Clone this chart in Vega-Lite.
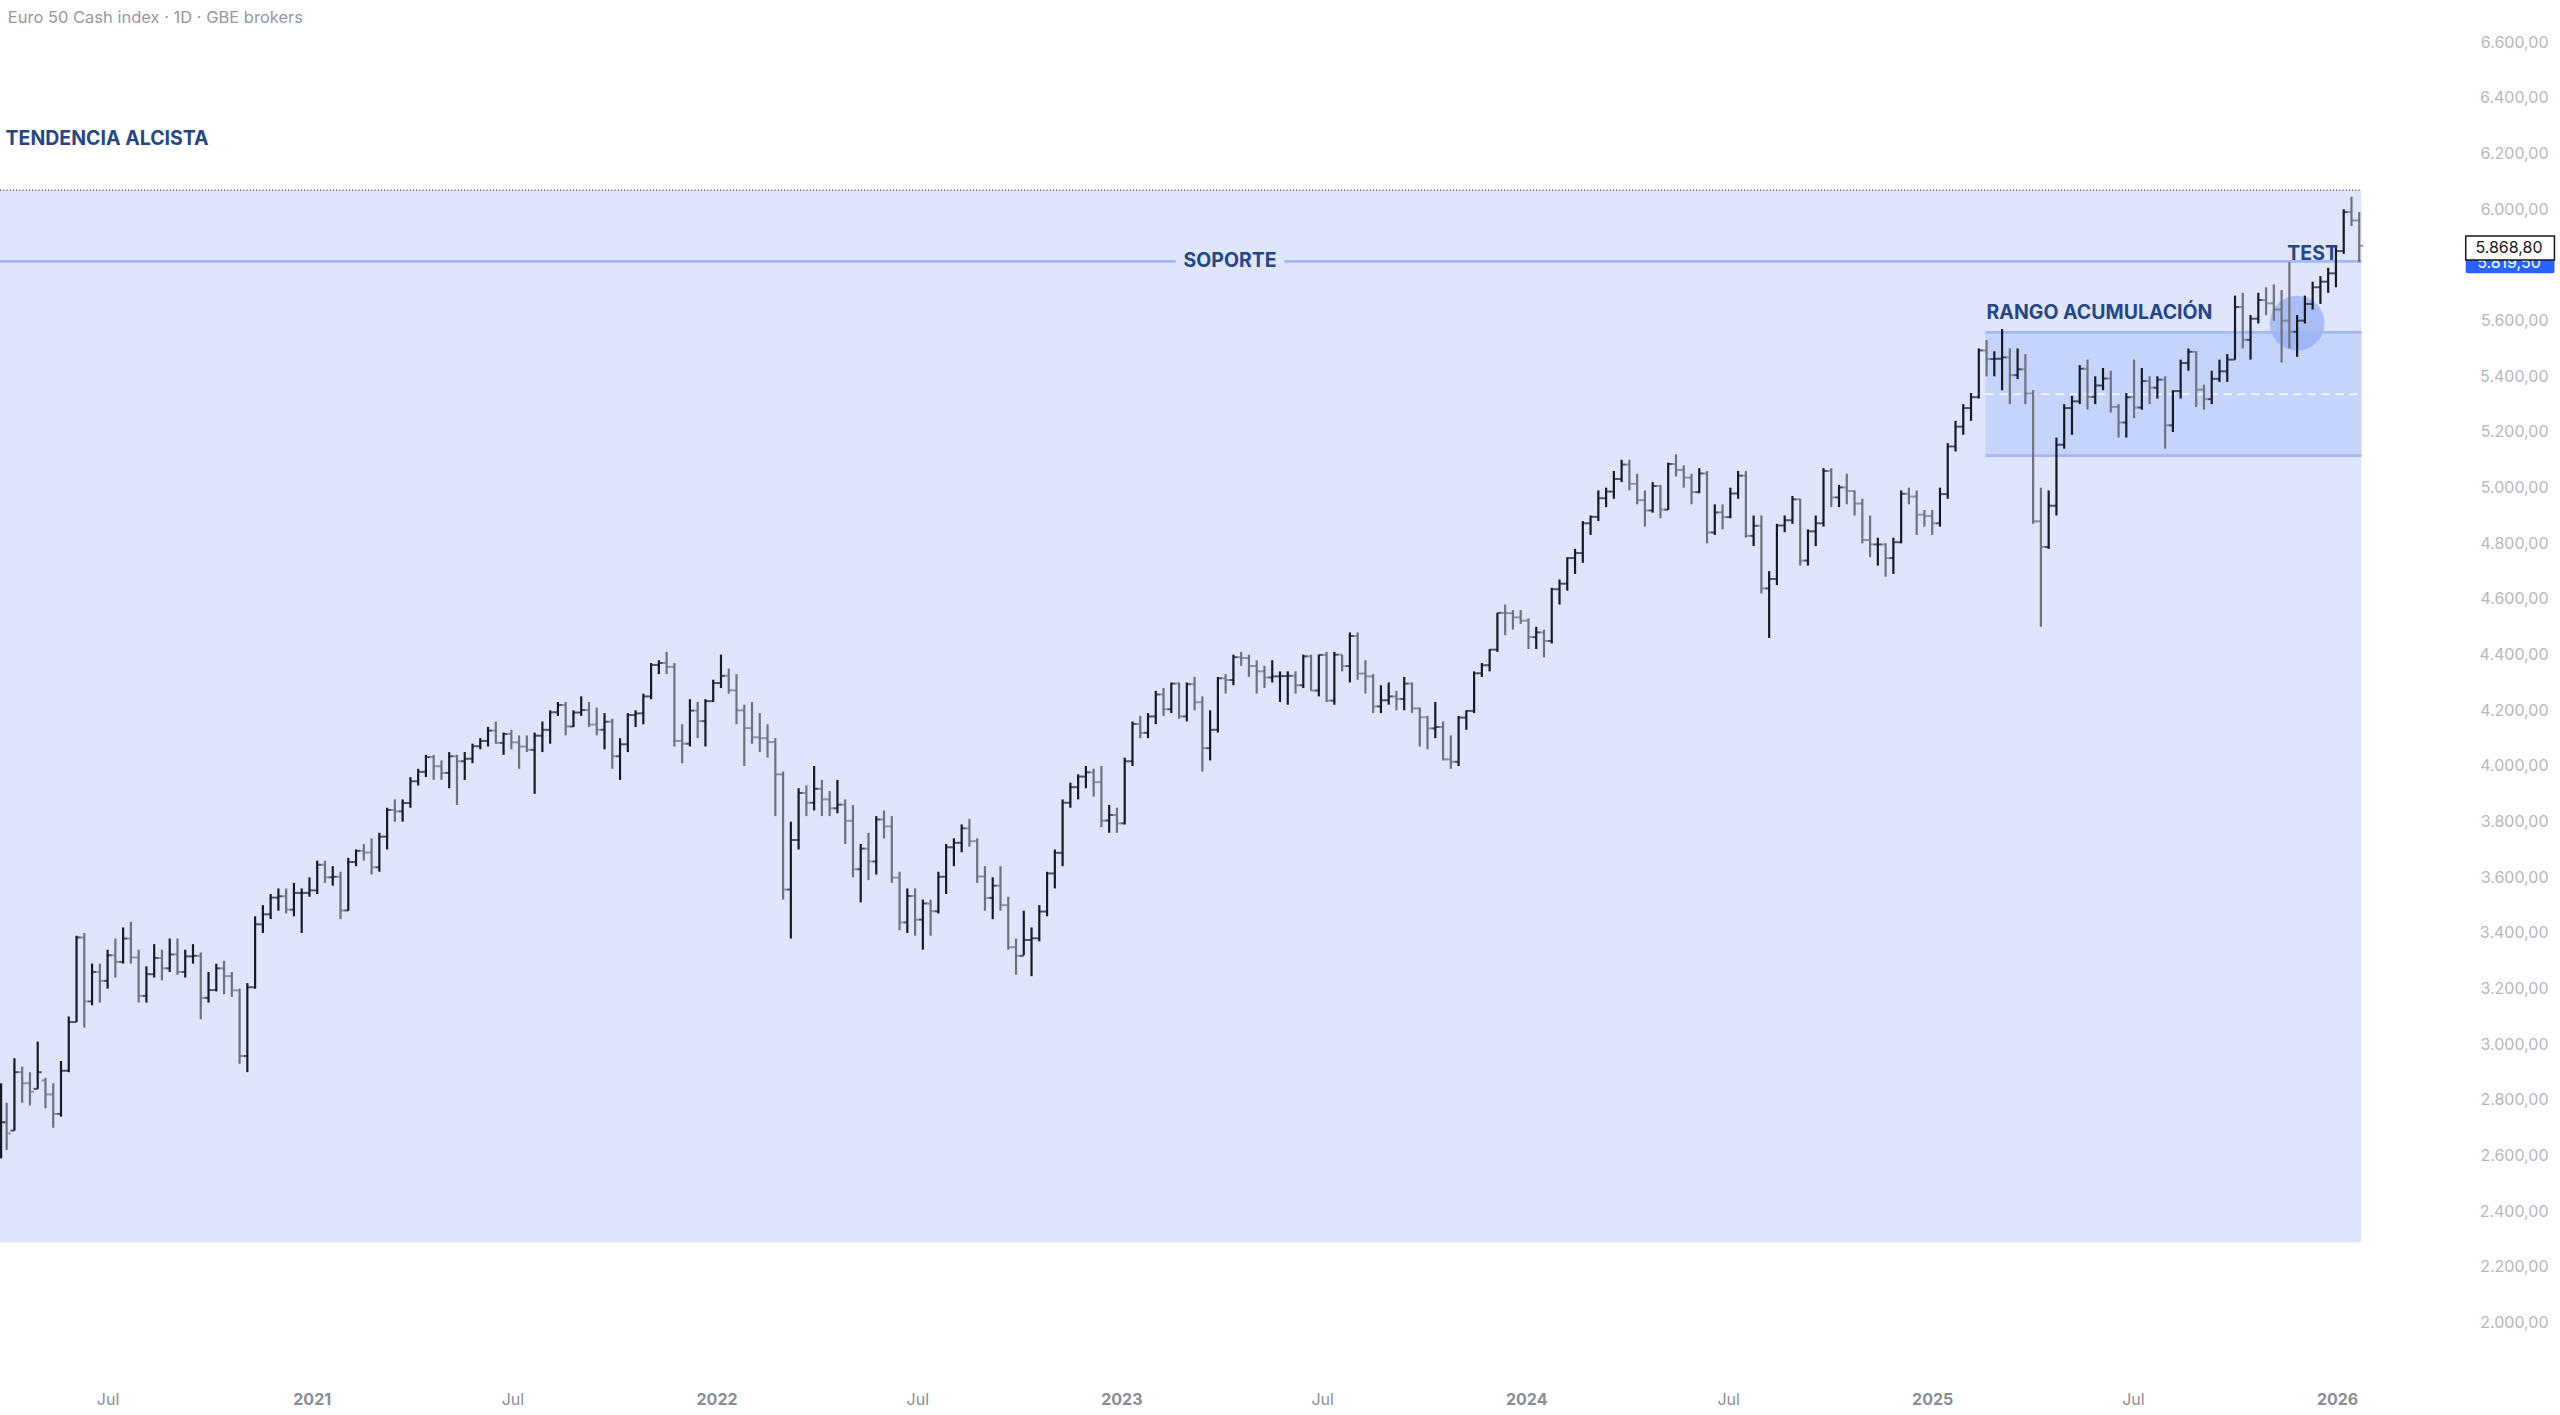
{
  "$schema": "https://vega.github.io/schema/vega-lite/v6.json",
  "width": 2560,
  "height": 1380,
  "autosize": "none",
  "padding": {"left": 0, "top": 0, "right": 0, "bottom": 35},
  "background": "#ffffff",
  "config": {
    "view": {"stroke": null},
    "font": "Inter",
    "locale": {"number": {"decimal": ",", "thousands": ".", "grouping": [3], "currency": ["", " €"]}},
    "axis": {"grid": false, "domain": false, "ticks": false}
  },
  "resolve": {"axis": {"x": "independent", "y": "independent"}},
  "datasets": {
    "velas": [
      {"d":"2020-03-27","o":2600,"h":2860,"l":2590,"c":2720},
      {"d":"2020-04-01","o":2720,"h":2790,"l":2620,"c":2680},
      {"d":"2020-04-08","o":2690,"h":2950,"l":2690,"c":2900},
      {"d":"2020-04-15","o":2900,"h":2920,"l":2790,"c":2860},
      {"d":"2020-04-22","o":2860,"h":2900,"l":2780,"c":2830},
      {"d":"2020-04-29","o":2840,"h":3010,"l":2840,"c":2900},
      {"d":"2020-05-06","o":2870,"h":2880,"l":2770,"c":2820},
      {"d":"2020-05-13","o":2820,"h":2860,"l":2700,"c":2750},
      {"d":"2020-05-20","o":2750,"h":2940,"l":2740,"c":2905},
      {"d":"2020-05-27","o":2905,"h":3100,"l":2900,"c":3080},
      {"d":"2020-06-03","o":3080,"h":3390,"l":3080,"c":3384},
      {"d":"2020-06-10","o":3384,"h":3400,"l":3060,"c":3154},
      {"d":"2020-06-17","o":3154,"h":3290,"l":3140,"c":3260},
      {"d":"2020-06-24","o":3260,"h":3290,"l":3150,"c":3228},
      {"d":"2020-07-01","o":3228,"h":3340,"l":3200,"c":3320},
      {"d":"2020-07-08","o":3320,"h":3380,"l":3240,"c":3296},
      {"d":"2020-07-15","o":3296,"h":3420,"l":3290,"c":3380},
      {"d":"2020-07-22","o":3380,"h":3440,"l":3290,"c":3312},
      {"d":"2020-07-29","o":3312,"h":3340,"l":3150,"c":3174},
      {"d":"2020-08-05","o":3174,"h":3280,"l":3150,"c":3252},
      {"d":"2020-08-12","o":3252,"h":3360,"l":3240,"c":3310},
      {"d":"2020-08-19","o":3310,"h":3340,"l":3230,"c":3273},
      {"d":"2020-08-26","o":3273,"h":3380,"l":3260,"c":3323},
      {"d":"2020-09-02","o":3323,"h":3380,"l":3250,"c":3260},
      {"d":"2020-09-09","o":3260,"h":3340,"l":3240,"c":3316},
      {"d":"2020-09-16","o":3316,"h":3360,"l":3290,"c":3318},
      {"d":"2020-09-23","o":3318,"h":3330,"l":3090,"c":3167},
      {"d":"2020-09-30","o":3167,"h":3260,"l":3150,"c":3195},
      {"d":"2020-10-07","o":3195,"h":3290,"l":3190,"c":3273},
      {"d":"2020-10-14","o":3273,"h":3300,"l":3180,"c":3245},
      {"d":"2020-10-21","o":3245,"h":3260,"l":3170,"c":3194},
      {"d":"2020-10-28","o":3194,"h":3200,"l":2930,"c":2958},
      {"d":"2020-11-04","o":2958,"h":3220,"l":2900,"c":3205},
      {"d":"2020-11-11","o":3205,"h":3460,"l":3200,"c":3431},
      {"d":"2020-11-18","o":3431,"h":3500,"l":3400,"c":3467},
      {"d":"2020-11-25","o":3467,"h":3540,"l":3450,"c":3527},
      {"d":"2020-12-02","o":3527,"h":3560,"l":3480,"c":3532},
      {"d":"2020-12-09","o":3532,"h":3560,"l":3470,"c":3484},
      {"d":"2020-12-16","o":3484,"h":3580,"l":3460,"c":3544},
      {"d":"2020-12-23","o":3544,"h":3560,"l":3400,"c":3544},
      {"d":"2020-12-30","o":3544,"h":3600,"l":3530,"c":3553},
      {"d":"2021-01-06","o":3553,"h":3660,"l":3540,"c":3645},
      {"d":"2021-01-13","o":3645,"h":3660,"l":3580,"c":3600},
      {"d":"2021-01-20","o":3600,"h":3640,"l":3570,"c":3602},
      {"d":"2021-01-27","o":3602,"h":3620,"l":3450,"c":3481},
      {"d":"2021-02-03","o":3481,"h":3670,"l":3480,"c":3655},
      {"d":"2021-02-10","o":3655,"h":3700,"l":3640,"c":3695},
      {"d":"2021-02-17","o":3695,"h":3720,"l":3660,"c":3689},
      {"d":"2021-02-24","o":3689,"h":3740,"l":3610,"c":3636},
      {"d":"2021-03-03","o":3636,"h":3760,"l":3620,"c":3746},
      {"d":"2021-03-10","o":3746,"h":3850,"l":3700,"c":3842},
      {"d":"2021-03-17","o":3842,"h":3880,"l":3800,"c":3837},
      {"d":"2021-03-24","o":3837,"h":3880,"l":3800,"c":3867},
      {"d":"2021-03-31","o":3867,"h":3960,"l":3850,"c":3945},
      {"d":"2021-04-07","o":3945,"h":3990,"l":3930,"c":3979},
      {"d":"2021-04-14","o":3979,"h":4040,"l":3960,"c":4032},
      {"d":"2021-04-21","o":4032,"h":4040,"l":3950,"c":3999},
      {"d":"2021-04-28","o":3999,"h":4020,"l":3950,"c":3975},
      {"d":"2021-05-05","o":3975,"h":4050,"l":3920,"c":4035},
      {"d":"2021-05-12","o":4035,"h":4040,"l":3860,"c":4017},
      {"d":"2021-05-19","o":4017,"h":4050,"l":3950,"c":4026},
      {"d":"2021-05-26","o":4026,"h":4080,"l":4010,"c":4071},
      {"d":"2021-06-02","o":4071,"h":4100,"l":4060,"c":4090},
      {"d":"2021-06-09","o":4090,"h":4140,"l":4070,"c":4127},
      {"d":"2021-06-16","o":4127,"h":4160,"l":4080,"c":4083},
      {"d":"2021-06-23","o":4083,"h":4120,"l":4040,"c":4115},
      {"d":"2021-06-30","o":4115,"h":4130,"l":4060,"c":4085},
      {"d":"2021-07-07","o":4085,"h":4110,"l":3990,"c":4070},
      {"d":"2021-07-14","o":4070,"h":4110,"l":4050,"c":4058},
      {"d":"2021-07-21","o":4058,"h":4120,"l":3900,"c":4109},
      {"d":"2021-07-28","o":4109,"h":4160,"l":4050,"c":4130},
      {"d":"2021-08-04","o":4130,"h":4200,"l":4080,"c":4193},
      {"d":"2021-08-11","o":4193,"h":4230,"l":4180,"c":4219},
      {"d":"2021-08-18","o":4219,"h":4230,"l":4110,"c":4142},
      {"d":"2021-08-25","o":4142,"h":4200,"l":4140,"c":4192},
      {"d":"2021-09-01","o":4192,"h":4250,"l":4180,"c":4201},
      {"d":"2021-09-08","o":4201,"h":4230,"l":4140,"c":4149},
      {"d":"2021-09-15","o":4149,"h":4210,"l":4110,"c":4130},
      {"d":"2021-09-22","o":4130,"h":4190,"l":4060,"c":4159},
      {"d":"2021-09-29","o":4159,"h":4170,"l":3990,"c":4035},
      {"d":"2021-10-06","o":4035,"h":4100,"l":3950,"c":4078},
      {"d":"2021-10-13","o":4078,"h":4190,"l":4050,"c":4183},
      {"d":"2021-10-20","o":4183,"h":4200,"l":4140,"c":4189},
      {"d":"2021-10-27","o":4189,"h":4260,"l":4150,"c":4250},
      {"d":"2021-11-03","o":4250,"h":4370,"l":4240,"c":4363},
      {"d":"2021-11-10","o":4363,"h":4380,"l":4330,"c":4370},
      {"d":"2021-11-17","o":4370,"h":4410,"l":4330,"c":4356},
      {"d":"2021-11-24","o":4356,"h":4370,"l":4070,"c":4090},
      {"d":"2021-12-01","o":4090,"h":4150,"l":4010,"c":4080},
      {"d":"2021-12-08","o":4080,"h":4240,"l":4070,"c":4199},
      {"d":"2021-12-15","o":4199,"h":4230,"l":4100,"c":4161},
      {"d":"2021-12-22","o":4161,"h":4240,"l":4070,"c":4233},
      {"d":"2021-12-29","o":4233,"h":4310,"l":4230,"c":4298},
      {"d":"2022-01-05","o":4298,"h":4400,"l":4280,"c":4324},
      {"d":"2022-01-12","o":4324,"h":4350,"l":4260,"c":4272},
      {"d":"2022-01-19","o":4272,"h":4330,"l":4150,"c":4200},
      {"d":"2022-01-26","o":4200,"h":4220,"l":4000,"c":4136},
      {"d":"2022-02-02","o":4136,"h":4230,"l":4080,"c":4103},
      {"d":"2022-02-09","o":4103,"h":4190,"l":4050,"c":4100},
      {"d":"2022-02-16","o":4100,"h":4150,"l":4030,"c":4086},
      {"d":"2022-02-23","o":4086,"h":4100,"l":3820,"c":3970},
      {"d":"2022-03-02","o":3970,"h":3980,"l":3520,"c":3556},
      {"d":"2022-03-09","o":3556,"h":3800,"l":3380,"c":3734},
      {"d":"2022-03-16","o":3734,"h":3920,"l":3700,"c":3903},
      {"d":"2022-03-23","o":3903,"h":3930,"l":3820,"c":3868},
      {"d":"2022-03-30","o":3868,"h":4000,"l":3840,"c":3918},
      {"d":"2022-04-06","o":3918,"h":3950,"l":3820,"c":3880},
      {"d":"2022-04-13","o":3880,"h":3910,"l":3820,"c":3848},
      {"d":"2022-04-20","o":3848,"h":3950,"l":3830,"c":3861},
      {"d":"2022-04-27","o":3861,"h":3880,"l":3720,"c":3803},
      {"d":"2022-05-04","o":3803,"h":3860,"l":3600,"c":3629},
      {"d":"2022-05-11","o":3629,"h":3720,"l":3510,"c":3703},
      {"d":"2022-05-18","o":3703,"h":3760,"l":3590,"c":3657},
      {"d":"2022-05-25","o":3657,"h":3820,"l":3610,"c":3808},
      {"d":"2022-06-01","o":3808,"h":3840,"l":3740,"c":3783},
      {"d":"2022-06-08","o":3783,"h":3820,"l":3580,"c":3599},
      {"d":"2022-06-15","o":3599,"h":3620,"l":3410,"c":3438},
      {"d":"2022-06-22","o":3438,"h":3560,"l":3400,"c":3533},
      {"d":"2022-06-29","o":3533,"h":3560,"l":3390,"c":3448},
      {"d":"2022-07-06","o":3448,"h":3520,"l":3340,"c":3506},
      {"d":"2022-07-13","o":3506,"h":3520,"l":3390,"c":3478},
      {"d":"2022-07-20","o":3478,"h":3620,"l":3470,"c":3602},
      {"d":"2022-07-27","o":3602,"h":3720,"l":3540,"c":3708},
      {"d":"2022-08-03","o":3708,"h":3740,"l":3640,"c":3724},
      {"d":"2022-08-10","o":3724,"h":3790,"l":3690,"c":3776},
      {"d":"2022-08-17","o":3776,"h":3810,"l":3710,"c":3730},
      {"d":"2022-08-24","o":3730,"h":3740,"l":3580,"c":3603},
      {"d":"2022-08-31","o":3603,"h":3640,"l":3480,"c":3526},
      {"d":"2022-09-07","o":3526,"h":3600,"l":3450,"c":3570},
      {"d":"2022-09-14","o":3570,"h":3640,"l":3480,"c":3500},
      {"d":"2022-09-21","o":3500,"h":3530,"l":3340,"c":3349},
      {"d":"2022-09-28","o":3349,"h":3380,"l":3250,"c":3318},
      {"d":"2022-10-05","o":3318,"h":3480,"l":3320,"c":3375},
      {"d":"2022-10-12","o":3375,"h":3420,"l":3245,"c":3381},
      {"d":"2022-10-19","o":3381,"h":3500,"l":3370,"c":3477},
      {"d":"2022-10-26","o":3477,"h":3620,"l":3460,"c":3614},
      {"d":"2022-11-02","o":3614,"h":3700,"l":3560,"c":3688},
      {"d":"2022-11-09","o":3688,"h":3880,"l":3640,"c":3868},
      {"d":"2022-11-16","o":3868,"h":3940,"l":3850,"c":3924},
      {"d":"2022-11-23","o":3924,"h":3970,"l":3880,"c":3962},
      {"d":"2022-11-30","o":3962,"h":4000,"l":3920,"c":3977},
      {"d":"2022-12-07","o":3977,"h":3990,"l":3890,"c":3942},
      {"d":"2022-12-14","o":3942,"h":4000,"l":3780,"c":3804},
      {"d":"2022-12-21","o":3804,"h":3860,"l":3760,"c":3824},
      {"d":"2022-12-28","o":3824,"h":3850,"l":3760,"c":3794},
      {"d":"2023-01-04","o":3794,"h":4030,"l":3790,"c":4017},
      {"d":"2023-01-11","o":4017,"h":4160,"l":4000,"c":4151},
      {"d":"2023-01-18","o":4151,"h":4180,"l":4100,"c":4119},
      {"d":"2023-01-25","o":4119,"h":4190,"l":4100,"c":4178},
      {"d":"2023-02-01","o":4178,"h":4270,"l":4150,"c":4257},
      {"d":"2023-02-08","o":4257,"h":4280,"l":4180,"c":4204},
      {"d":"2023-02-15","o":4204,"h":4300,"l":4190,"c":4296},
      {"d":"2023-02-22","o":4296,"h":4300,"l":4170,"c":4178},
      {"d":"2023-03-01","o":4178,"h":4300,"l":4160,"c":4294},
      {"d":"2023-03-08","o":4294,"h":4320,"l":4200,"c":4229},
      {"d":"2023-03-15","o":4229,"h":4250,"l":3980,"c":4064},
      {"d":"2023-03-22","o":4064,"h":4200,"l":4020,"c":4130},
      {"d":"2023-03-29","o":4130,"h":4320,"l":4120,"c":4315},
      {"d":"2023-04-05","o":4315,"h":4330,"l":4260,"c":4309},
      {"d":"2023-04-12","o":4309,"h":4400,"l":4290,"c":4391},
      {"d":"2023-04-19","o":4391,"h":4410,"l":4360,"c":4388},
      {"d":"2023-04-26","o":4388,"h":4400,"l":4320,"c":4359},
      {"d":"2023-05-03","o":4359,"h":4380,"l":4260,"c":4340},
      {"d":"2023-05-10","o":4340,"h":4360,"l":4280,"c":4318},
      {"d":"2023-05-17","o":4318,"h":4380,"l":4300,"c":4322},
      {"d":"2023-05-24","o":4322,"h":4340,"l":4230,"c":4323},
      {"d":"2023-05-31","o":4323,"h":4340,"l":4220,"c":4324},
      {"d":"2023-06-07","o":4324,"h":4340,"l":4260,"c":4290},
      {"d":"2023-06-14","o":4290,"h":4400,"l":4280,"c":4394},
      {"d":"2023-06-21","o":4394,"h":4400,"l":4270,"c":4271},
      {"d":"2023-06-28","o":4271,"h":4400,"l":4250,"c":4399},
      {"d":"2023-07-05","o":4399,"h":4410,"l":4230,"c":4235},
      {"d":"2023-07-12","o":4235,"h":4410,"l":4220,"c":4400},
      {"d":"2023-07-19","o":4400,"h":4400,"l":4340,"c":4359},
      {"d":"2023-07-26","o":4359,"h":4480,"l":4300,"c":4467},
      {"d":"2023-08-02","o":4467,"h":4480,"l":4310,"c":4332},
      {"d":"2023-08-09","o":4332,"h":4380,"l":4260,"c":4322},
      {"d":"2023-08-16","o":4322,"h":4330,"l":4190,"c":4214},
      {"d":"2023-08-23","o":4214,"h":4290,"l":4190,"c":4236},
      {"d":"2023-08-30","o":4236,"h":4300,"l":4220,"c":4250},
      {"d":"2023-09-06","o":4250,"h":4270,"l":4200,"c":4241},
      {"d":"2023-09-13","o":4241,"h":4320,"l":4200,"c":4296},
      {"d":"2023-09-20","o":4296,"h":4300,"l":4190,"c":4207},
      {"d":"2023-09-27","o":4207,"h":4210,"l":4070,"c":4175},
      {"d":"2023-10-04","o":4175,"h":4180,"l":4060,"c":4135},
      {"d":"2023-10-11","o":4135,"h":4230,"l":4100,"c":4140},
      {"d":"2023-10-18","o":4140,"h":4160,"l":4020,"c":4024},
      {"d":"2023-10-25","o":4024,"h":4110,"l":3990,"c":4015},
      {"d":"2023-11-01","o":4015,"h":4180,"l":4000,"c":4174},
      {"d":"2023-11-08","o":4174,"h":4200,"l":4130,"c":4198},
      {"d":"2023-11-15","o":4198,"h":4340,"l":4190,"c":4333},
      {"d":"2023-11-22","o":4333,"h":4370,"l":4320,"c":4362},
      {"d":"2023-11-29","o":4362,"h":4420,"l":4340,"c":4418},
      {"d":"2023-12-06","o":4418,"h":4550,"l":4410,"c":4550},
      {"d":"2023-12-13","o":4550,"h":4580,"l":4470,"c":4549},
      {"d":"2023-12-20","o":4549,"h":4560,"l":4490,"c":4534},
      {"d":"2023-12-27","o":4534,"h":4560,"l":4510,"c":4522},
      {"d":"2024-01-03","o":4522,"h":4530,"l":4420,"c":4463},
      {"d":"2024-01-10","o":4463,"h":4500,"l":4420,"c":4480},
      {"d":"2024-01-17","o":4480,"h":4490,"l":4390,"c":4449},
      {"d":"2024-01-24","o":4449,"h":4640,"l":4440,"c":4635},
      {"d":"2024-01-31","o":4635,"h":4670,"l":4580,"c":4655},
      {"d":"2024-02-07","o":4655,"h":4750,"l":4630,"c":4747},
      {"d":"2024-02-14","o":4747,"h":4780,"l":4690,"c":4765},
      {"d":"2024-02-21","o":4765,"h":4880,"l":4730,"c":4872},
      {"d":"2024-02-28","o":4872,"h":4900,"l":4830,"c":4895},
      {"d":"2024-03-06","o":4895,"h":4990,"l":4880,"c":4962},
      {"d":"2024-03-13","o":4962,"h":5000,"l":4930,"c":4986},
      {"d":"2024-03-20","o":4986,"h":5060,"l":4960,"c":5031},
      {"d":"2024-03-27","o":5031,"h":5100,"l":5020,"c":5083},
      {"d":"2024-04-03","o":5083,"h":5100,"l":4990,"c":5014},
      {"d":"2024-04-10","o":5014,"h":5050,"l":4940,"c":4955},
      {"d":"2024-04-17","o":4955,"h":4990,"l":4860,"c":4918},
      {"d":"2024-04-24","o":4918,"h":5020,"l":4910,"c":5006},
      {"d":"2024-05-01","o":5006,"h":5010,"l":4890,"c":4921},
      {"d":"2024-05-08","o":4921,"h":5090,"l":4920,"c":5085},
      {"d":"2024-05-15","o":5085,"h":5120,"l":5040,"c":5064},
      {"d":"2024-05-22","o":5064,"h":5080,"l":5000,"c":5036},
      {"d":"2024-05-29","o":5036,"h":5050,"l":4940,"c":4984},
      {"d":"2024-06-05","o":4984,"h":5070,"l":4980,"c":5051},
      {"d":"2024-06-12","o":5051,"h":5060,"l":4800,"c":4839},
      {"d":"2024-06-19","o":4839,"h":4940,"l":4830,"c":4911},
      {"d":"2024-06-26","o":4911,"h":4940,"l":4850,"c":4894},
      {"d":"2024-07-03","o":4894,"h":5000,"l":4890,"c":4979},
      {"d":"2024-07-10","o":4979,"h":5060,"l":4960,"c":5043},
      {"d":"2024-07-17","o":5043,"h":5060,"l":4820,"c":4827},
      {"d":"2024-07-24","o":4827,"h":4900,"l":4790,"c":4863},
      {"d":"2024-07-31","o":4863,"h":4900,"l":4620,"c":4638},
      {"d":"2024-08-07","o":4638,"h":4700,"l":4460,"c":4672},
      {"d":"2024-08-14","o":4672,"h":4870,"l":4650,"c":4864},
      {"d":"2024-08-21","o":4864,"h":4900,"l":4840,"c":4883},
      {"d":"2024-08-28","o":4883,"h":4970,"l":4870,"c":4958},
      {"d":"2024-09-04","o":4958,"h":4960,"l":4720,"c":4738},
      {"d":"2024-09-11","o":4738,"h":4850,"l":4720,"c":4843},
      {"d":"2024-09-18","o":4843,"h":4900,"l":4790,"c":4872},
      {"d":"2024-09-25","o":4872,"h":5070,"l":4860,"c":5060},
      {"d":"2024-10-02","o":5060,"h":5070,"l":4930,"c":4965},
      {"d":"2024-10-09","o":4965,"h":5010,"l":4930,"c":5001},
      {"d":"2024-10-16","o":5001,"h":5050,"l":4940,"c":4988},
      {"d":"2024-10-23","o":4988,"h":4990,"l":4900,"c":4943},
      {"d":"2024-10-30","o":4943,"h":4960,"l":4800,"c":4812},
      {"d":"2024-11-06","o":4812,"h":4900,"l":4750,"c":4796},
      {"d":"2024-11-13","o":4796,"h":4820,"l":4720,"c":4796},
      {"d":"2024-11-20","o":4796,"h":4800,"l":4680,"c":4747},
      {"d":"2024-11-27","o":4747,"h":4820,"l":4690,"c":4804},
      {"d":"2024-12-04","o":4804,"h":4990,"l":4800,"c":4978},
      {"d":"2024-12-11","o":4978,"h":5000,"l":4940,"c":4968},
      {"d":"2024-12-18","o":4968,"h":4990,"l":4830,"c":4903},
      {"d":"2024-12-25","o":4903,"h":4920,"l":4860,"c":4898},
      {"d":"2025-01-01","o":4898,"h":4920,"l":4830,"c":4872},
      {"d":"2025-01-08","o":4872,"h":5000,"l":4860,"c":4977},
      {"d":"2025-01-15","o":4977,"h":5160,"l":4960,"c":5148},
      {"d":"2025-01-22","o":5148,"h":5240,"l":5130,"c":5219},
      {"d":"2025-01-29","o":5219,"h":5300,"l":5190,"c":5286},
      {"d":"2025-02-05","o":5286,"h":5340,"l":5240,"c":5325},
      {"d":"2025-02-12","o":5325,"h":5500,"l":5320,"c":5493},
      {"d":"2025-02-19","o":5493,"h":5530,"l":5400,"c":5462},
      {"d":"2025-02-26","o":5462,"h":5490,"l":5400,"c":5463},
      {"d":"2025-03-05","o":5463,"h":5570,"l":5350,"c":5468},
      {"d":"2025-03-12","o":5468,"h":5500,"l":5300,"c":5404},
      {"d":"2025-03-19","o":5404,"h":5500,"l":5390,"c":5425},
      {"d":"2025-03-26","o":5425,"h":5480,"l":5300,"c":5338},
      {"d":"2025-04-02","o":5338,"h":5350,"l":4870,"c":4879},
      {"d":"2025-04-09","o":4879,"h":5000,"l":4500,"c":4787},
      {"d":"2025-04-16","o":4787,"h":4990,"l":4780,"c":4935},
      {"d":"2025-04-23","o":4935,"h":5180,"l":4900,"c":5154},
      {"d":"2025-04-30","o":5154,"h":5300,"l":5140,"c":5286},
      {"d":"2025-05-07","o":5286,"h":5330,"l":5190,"c":5310},
      {"d":"2025-05-14","o":5310,"h":5440,"l":5300,"c":5427},
      {"d":"2025-05-21","o":5427,"h":5460,"l":5280,"c":5326},
      {"d":"2025-05-28","o":5326,"h":5400,"l":5300,"c":5367},
      {"d":"2025-06-04","o":5367,"h":5430,"l":5350,"c":5392},
      {"d":"2025-06-11","o":5392,"h":5420,"l":5270,"c":5290},
      {"d":"2025-06-18","o":5290,"h":5300,"l":5180,"c":5234},
      {"d":"2025-06-25","o":5234,"h":5340,"l":5180,"c":5325},
      {"d":"2025-07-02","o":5325,"h":5460,"l":5250,"c":5288},
      {"d":"2025-07-09","o":5288,"h":5430,"l":5280,"c":5383},
      {"d":"2025-07-16","o":5383,"h":5400,"l":5300,"c":5359},
      {"d":"2025-07-23","o":5359,"h":5400,"l":5320,"c":5388},
      {"d":"2025-07-30","o":5388,"h":5400,"l":5140,"c":5224},
      {"d":"2025-08-06","o":5224,"h":5350,"l":5200,"c":5347},
      {"d":"2025-08-13","o":5347,"h":5460,"l":5320,"c":5448},
      {"d":"2025-08-20","o":5448,"h":5500,"l":5420,"c":5488},
      {"d":"2025-08-27","o":5488,"h":5490,"l":5290,"c":5352},
      {"d":"2025-09-03","o":5352,"h":5370,"l":5280,"c":5318},
      {"d":"2025-09-10","o":5318,"h":5420,"l":5300,"c":5391},
      {"d":"2025-09-17","o":5391,"h":5460,"l":5380,"c":5418},
      {"d":"2025-09-24","o":5418,"h":5480,"l":5380,"c":5460},
      {"d":"2025-10-01","o":5460,"h":5690,"l":5460,"c":5649},
      {"d":"2025-10-08","o":5649,"h":5700,"l":5500,"c":5531},
      {"d":"2025-10-15","o":5531,"h":5620,"l":5460,"c":5607},
      {"d":"2025-10-22","o":5607,"h":5700,"l":5590,"c":5674},
      {"d":"2025-10-29","o":5674,"h":5720,"l":5620,"c":5662},
      {"d":"2025-11-05","o":5662,"h":5730,"l":5600,"c":5640},
      {"d":"2025-11-12","o":5640,"h":5710,"l":5450,"c":5600},
      {"d":"2025-11-19","o":5600,"h":5810,"l":5500,"c":5560},
      {"d":"2025-11-26","o":5560,"h":5620,"l":5470,"c":5600},
      {"d":"2025-12-03","o":5600,"h":5690,"l":5590,"c":5660},
      {"d":"2025-12-10","o":5660,"h":5740,"l":5640,"c":5720},
      {"d":"2025-12-17","o":5720,"h":5760,"l":5660,"c":5740},
      {"d":"2025-12-24","o":5740,"h":5790,"l":5700,"c":5770},
      {"d":"2025-12-31","o":5770,"h":5870,"l":5720,"c":5850},
      {"d":"2026-01-07","o":5850,"h":6000,"l":5840,"c":5990},
      {"d":"2026-01-14","o":5990,"h":6045,"l":5940,"c":5960},
      {"d":"2026-01-21","o":5960,"h":5990,"l":5810,"c":5869}
    ],
    "lineas": [
      {"k":"techo","d1":"2020-03-26","d2":"2026-01-23","v":6069},
      {"k":"soporte","d1":"2020-03-26","d2":"2023-02-19","v":5813},
      {"k":"soporte","d1":"2023-05-28","d2":"2026-01-23","v":5813},
      {"k":"rango","d1":"2025-02-18","d2":"2026-01-23","v":5558},
      {"k":"rango","d1":"2025-02-18","d2":"2026-01-23","v":5115},
      {"k":"medio","d1":"2025-02-18","d2":"2026-01-23","v":5336}
    ]
  },
  "layer": [
    {
      "data": {"values": [{"d1":"2020-03-26","d2":"2026-01-23","v1":2288,"v2":6069}]},
      "mark": {"type": "rect", "color": "#dfe6fc", "opacity": 1},
      "encoding": {
        "x": {
          "field": "d1", "type": "temporal", "title": null,
          "scale": {"type": "utc", "domain": [{"year": 2020, "month": 3, "date": 26, "utc": true}, {"year": 2026, "month": 7, "date": 21, "utc": true}]},
          "axis": {
            "values": [
              {"year": 2020, "month": 7, "date": 1, "utc": true},
              {"year": 2021, "month": 1, "date": 1, "utc": true},
              {"year": 2021, "month": 7, "date": 1, "utc": true},
              {"year": 2022, "month": 1, "date": 1, "utc": true},
              {"year": 2022, "month": 7, "date": 1, "utc": true},
              {"year": 2023, "month": 1, "date": 1, "utc": true},
              {"year": 2023, "month": 7, "date": 1, "utc": true},
              {"year": 2024, "month": 1, "date": 1, "utc": true},
              {"year": 2024, "month": 7, "date": 1, "utc": true},
              {"year": 2025, "month": 1, "date": 1, "utc": true},
              {"year": 2025, "month": 7, "date": 1, "utc": true},
              {"year": 2026, "month": 1, "date": 1, "utc": true}
            ],
            "labelExpr": "utcmonth(datum.value) == 0 ? utcFormat(datum.value, '%Y') : 'Jul'",
            "labelFontWeight": {"condition": {"test": "utcmonth(datum.value) == 0", "value": "bold"}, "value": "normal"},
            "labelColor": "#8a8d96", "labelFont": "Inter", "labelFontSize": 16, "labelPadding": 11,
            "labelOverlap": false, "labelFlush": false
          }
        },
        "x2": {"field": "d2"},
        "y": {
          "field": "v1", "type": "quantitative", "title": null,
          "scale": {"domain": [1794, 6752], "nice": false, "zero": false},
          "axis": {
            "orient": "right", "offset": -12,
            "values": [2000, 2200, 2400, 2600, 2800, 3000, 3200, 3400, 3600, 3800, 4000, 4200, 4400, 4600, 4800, 5000, 5200, 5400, 5600, 6000, 6200, 6400, 6600],
            "format": ",.2f", "labelAlign": "right", "labelPadding": 0, "labelBaseline": "middle",
            "labelColor": "#b4b7be", "labelFont": "Inter", "labelFontSize": 16,
            "labelOverlap": false, "labelFlush": false
          }
        },
        "y2": {"field": "v2"}
      }
    },
    {
      "data": {"values": [{"d1":"2025-02-18","d2":"2026-01-23","v1":5115,"v2":5558}]},
      "mark": {"type": "rect", "color": "#c6d4fb", "opacity": 1},
      "encoding": {
        "x": {"field": "d1", "type": "temporal", "axis": null},
        "x2": {"field": "d2"},
        "y": {"field": "v1", "type": "quantitative", "axis": null},
        "y2": {"field": "v2"}
      }
    },
    {
      "data": {"values": [{"d":"2025-11-26","v":5591}]},
      "mark": {"type": "circle", "size": 3000, "color": "#86a3f4", "opacity": 0.6},
      "encoding": {
        "x": {"field": "d", "type": "temporal", "axis": null},
        "y": {"field": "v", "type": "quantitative", "axis": null}
      }
    },
    {
      "data": {"name": "lineas"},
      "transform": [{"filter": "datum.k == 'techo'"}],
      "mark": {"type": "rule", "color": "#4a4f5c", "strokeWidth": 1.2, "strokeDash": [1.2, 2]},
      "encoding": {
        "x": {"field": "d1", "type": "temporal", "axis": null},
        "x2": {"field": "d2"},
        "y": {"field": "v", "type": "quantitative", "axis": null}
      }
    },
    {
      "data": {"name": "lineas"},
      "transform": [{"filter": "datum.k == 'soporte' || datum.k == 'rango'"}],
      "mark": {"type": "rule", "color": "#a3b8f0", "strokeWidth": 2.7},
      "encoding": {
        "x": {"field": "d1", "type": "temporal", "axis": null},
        "x2": {"field": "d2"},
        "y": {"field": "v", "type": "quantitative", "axis": null}
      }
    },
    {
      "data": {"name": "lineas"},
      "transform": [{"filter": "datum.k == 'medio'"}],
      "mark": {"type": "rule", "color": "#ffffff", "strokeWidth": 1.5, "strokeDash": [8, 6]},
      "encoding": {
        "x": {"field": "d1", "type": "temporal", "axis": null},
        "x2": {"field": "d2"},
        "y": {"field": "v", "type": "quantitative", "axis": null}
      }
    },
    {
      "data": {"name": "velas"},
      "mark": {"type": "rule", "strokeWidth": 2.2},
      "encoding": {
        "x": {"field": "d", "type": "temporal", "axis": null},
        "y": {"field": "l", "type": "quantitative", "axis": null},
        "y2": {"field": "h"},
        "color": {"condition": {"test": "datum.c >= datum.o", "value": "#161a25"}, "value": "#6e727d"}
      }
    },
    {
      "data": {"name": "velas"},
      "mark": {"type": "tick", "orient": "horizontal", "size": 4, "thickness": 2, "xOffset": -2},
      "encoding": {
        "x": {"field": "d", "type": "temporal", "axis": null},
        "y": {"field": "o", "type": "quantitative", "axis": null},
        "color": {"condition": {"test": "datum.c >= datum.o", "value": "#161a25"}, "value": "#6e727d"}
      }
    },
    {
      "data": {"name": "velas"},
      "mark": {"type": "tick", "orient": "horizontal", "size": 4, "thickness": 2, "xOffset": 2},
      "encoding": {
        "x": {"field": "d", "type": "temporal", "axis": null},
        "y": {"field": "c", "type": "quantitative", "axis": null},
        "color": {"condition": {"test": "datum.c >= datum.o", "value": "#161a25"}, "value": "#6e727d"}
      }
    },
    {
      "data": {"values": [{"d":"2020-04-02","v":6686,"t":"Euro 50 Cash index · 1D · GBE brokers"}]},
      "mark": {"type": "text", "align": "left", "baseline": "middle", "font": "Inter", "fontSize": 16.5, "color": "#9598a1"},
      "encoding": {
        "x": {"field": "d", "type": "temporal", "axis": null},
        "y": {"field": "v", "type": "quantitative", "axis": null},
        "text": {"field": "t"}
      }
    },
    {
      "data": {"values": [
        {"d":"2020-03-31","v":6253,"t":"TENDENCIA ALCISTA"},
        {"d":"2025-02-19","v":5627,"t":"RANGO ACUMULACIÓN"}
      ]},
      "mark": {"type": "text", "align": "left", "baseline": "middle", "font": "Inter", "fontSize": 19.5, "fontWeight": "bold", "color": "#274684"},
      "encoding": {
        "x": {"field": "d", "type": "temporal", "axis": null},
        "y": {"field": "v", "type": "quantitative", "axis": null},
        "text": {"field": "t"}
      }
    },
    {
      "data": {"values": [
        {"d":"2023-04-09","v":5813,"t":"SOPORTE"},
        {"d":"2025-12-10","v":5839,"t":"TEST"}
      ]},
      "mark": {"type": "text", "align": "center", "baseline": "middle", "font": "Inter", "fontSize": 19.5, "fontWeight": "bold", "color": "#274684"},
      "encoding": {
        "x": {"field": "d", "type": "temporal", "axis": null},
        "y": {"field": "v", "type": "quantitative", "axis": null},
        "text": {"field": "t"}
      }
    },
    {
      "data": {"values": [{"d1":"2026-04-27","d2":"2026-07-16","v1":5770,"v2":5850}]},
      "mark": {"type": "rect", "color": "#2962ff", "opacity": 1, "cornerRadius": 2},
      "encoding": {
        "x": {"field": "d1", "type": "temporal", "axis": null},
        "x2": {"field": "d2"},
        "y": {"field": "v1", "type": "quantitative", "axis": null},
        "y2": {"field": "v2"}
      }
    },
    {
      "data": {"values": [{"d":"2026-06-05","v":5808,"t":"5.819,50"}]},
      "mark": {"type": "text", "align": "center", "baseline": "middle", "font": "Inter", "fontSize": 16, "color": "#ffffff"},
      "encoding": {
        "x": {"field": "d", "type": "temporal", "axis": null},
        "y": {"field": "v", "type": "quantitative", "axis": null},
        "text": {"field": "t"}
      }
    },
    {
      "data": {"values": [{"d1":"2026-04-27","d2":"2026-07-16","v1":5818,"v2":5904}]},
      "mark": {"type": "rect", "fill": "#ffffff", "stroke": "#131722", "strokeWidth": 1.5, "opacity": 1},
      "encoding": {
        "x": {"field": "d1", "type": "temporal", "axis": null},
        "x2": {"field": "d2"},
        "y": {"field": "v1", "type": "quantitative", "axis": null},
        "y2": {"field": "v2"}
      }
    },
    {
      "data": {"values": [{"d":"2026-06-05","v":5861,"t":"5.868,80"}]},
      "mark": {"type": "text", "align": "center", "baseline": "middle", "font": "Inter", "fontSize": 16, "color": "#131722"},
      "encoding": {
        "x": {"field": "d", "type": "temporal", "axis": null},
        "y": {"field": "v", "type": "quantitative", "axis": null},
        "text": {"field": "t"}
      }
    }
  ]
}
